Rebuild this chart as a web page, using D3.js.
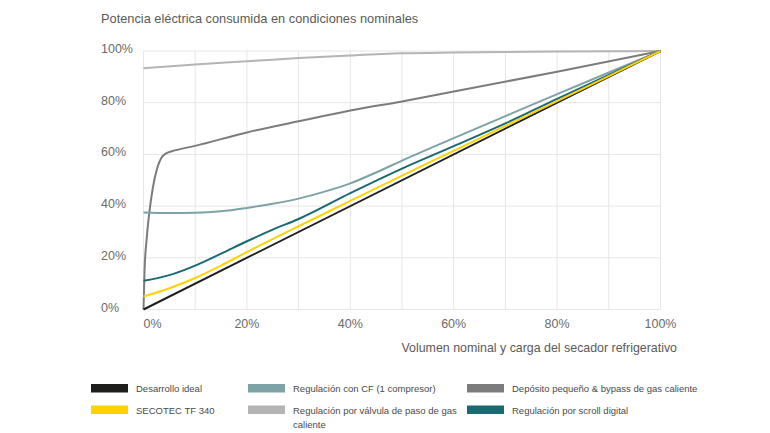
<!DOCTYPE html>
<html>
<head>
<meta charset="utf-8">
<script src="https://cdn.jsdelivr.net/npm/d3@7/dist/d3.min.js"></script>
<style>
  html, body { margin: 0; padding: 0; background: #fff; }
  svg { display: block; font-family: "Liberation Sans", Arial, Helvetica, sans-serif; }
</style>
</head>
<body>
<svg id="chart" width="770" height="433"></svg>
<script>
// ---- Data ----
const chartTitle = "Potencia eléctrica consumida en condiciones nominales";
const xAxisTitle = "Volumen nominal y carga del secador refrigerativo";
const xTicks = [0, 20, 40, 60, 80, 100];
const yTicks = [0, 20, 40, 60, 80, 100];
const xGrid = [0, 10, 20, 30, 40, 50, 60, 70, 80, 90, 100];

const seriesNames = [
  "Desarrollo ideal",
  "SECOTEC TF 340",
  "Regulación con CF (1 compresor)",
  "Regulación por válvula de paso de gas caliente",
  "Depósito pequeño & bypass de gas caliente",
  "Regulación por scroll digital"
];
const seriesColors = ["#1e1e1c", "#ffd200", "#7da3a6", "#b4b4b4", "#7c7c7c", "#1b6a72"];

const idealX = [0, 100];
const idealY = [0, 100];

const secotecX = [0, 5, 10, 15, 20, 30, 40, 50, 60, 70, 80, 90, 100];
const secotecY = [5, 8.2, 12.2, 17, 22.2, 32.2, 42, 51.8, 61.4, 71, 80.6, 90.3, 100];

const cfX = [0, 5, 10, 15, 20, 25, 30, 35, 40, 45, 50, 60, 70, 80, 90, 100];
const cfY = [37.5, 37.3, 37.4, 38, 39.3, 40.9, 42.9, 45.6, 48.8, 53, 57.6, 66.3, 74.8, 83.3, 91.7, 100];

const hotGasX = [0, 10, 20, 30, 40, 50, 60, 70, 80, 100];
const hotGasY = [93.3, 94.8, 96, 97.3, 98.3, 99.1, 99.4, 99.6, 99.8, 100];

const tankX = [0, 0.2, 0.6, 1.1, 1.8, 2.7, 3.5, 4.3, 5.5, 10, 20, 30, 40, 50, 60, 80, 100];
const tankY = [0, 15, 27, 37, 47, 55, 58.8, 60.3, 61.2, 63.3, 68.5, 72.8, 77, 80.5, 84.3, 92, 100];

const scrollX = [0, 5, 10, 15, 20, 25, 30, 40, 50, 60, 70, 80, 90, 100];
const scrollY = [11.1, 13.3, 17, 21.6, 26.4, 30.9, 35, 45, 54.5, 63.2, 72, 81.5, 90.8, 100];

// ---- Layout ----
const svg = d3.select("#chart");
const x = d3.scaleLinear().domain([0, 100]).range([143.5, 660.5]);
const y = d3.scaleLinear().domain([0, 100]).range([309.5, 51]);

const gridColor = "#e6e6e6";
const textColor = "#6b6b6b";

// Gridlines
svg.append("g").selectAll("line.h").data(yTicks).join("line")
  .attr("x1", x(0)).attr("x2", x(100))
  .attr("y1", d => y(d)).attr("y2", d => y(d))
  .attr("stroke", gridColor).attr("stroke-width", 1);
svg.append("g").selectAll("line.v").data(xGrid).join("line")
  .attr("x1", d => x(d)).attr("x2", d => x(d))
  .attr("y1", y(0)).attr("y2", y(100))
  .attr("stroke", gridColor).attr("stroke-width", 1);

// Title
svg.append("text").attr("x", 101).attr("y", 23)
  .attr("font-size", 12.8).attr("fill", "#5a5a5a").text(chartTitle);

// Y tick labels (left-aligned)
svg.append("g").selectAll("text").data(yTicks).join("text")
  .attr("x", 101).attr("y", d => y(d) + 2)
  .attr("font-size", 12.5).attr("fill", textColor)
  .text(d => d + "%");

// X tick labels
svg.append("g").selectAll("text").data(xTicks).join("text")
  .attr("x", d => x(d))
  .attr("y", 327.5)
  .attr("text-anchor", d => d === 0 ? "start" : "middle")
  .attr("font-size", 12.5).attr("fill", textColor)
  .text(d => d + "%");

// X axis title
svg.append("text").attr("x", 677).attr("y", 352)
  .attr("text-anchor", "end")
  .attr("font-size", 12.4).attr("fill", "#5a5a5a").text(xAxisTitle);

// Lines
const line = d3.line().x(d => x(d[0])).y(d => y(d[1])).curve(d3.curveMonotoneX);
const zip = (xs, ys) => xs.map((v, i) => [v, ys[i]]);
const drawOrder = [
  { data: zip(hotGasX, hotGasY), color: seriesColors[3] },
  { data: zip(tankX, tankY), color: seriesColors[4] },
  { data: zip(cfX, cfY), color: seriesColors[2] },
  { data: zip(scrollX, scrollY), color: seriesColors[5] },
  { data: zip(idealX, idealY), color: seriesColors[0] },
  { data: zip(secotecX, secotecY), color: seriesColors[1] }
];
svg.append("g").selectAll("path").data(drawOrder).join("path")
  .attr("d", d => line(d.data))
  .attr("fill", "none")
  .attr("stroke", d => d.color)
  .attr("stroke-width", 2);

// Legend
const legendItems = [
  { i: 0, col: 0, row: 0 },
  { i: 1, col: 0, row: 1 },
  { i: 2, col: 1, row: 0 },
  { i: 3, col: 1, row: 1 },
  { i: 4, col: 2, row: 0 },
  { i: 5, col: 2, row: 1 }
];
const colX = [91, 248, 467];
const rowY = [384, 405.5];
const lg = svg.append("g").selectAll("g").data(legendItems).join("g")
  .attr("transform", d => `translate(${colX[d.col]},${rowY[d.row]})`);
lg.append("rect").attr("width", 37).attr("height", 8.5)
  .attr("fill", d => seriesColors[d.i]);
lg.append("text").attr("x", 45).attr("y", 8)
  .attr("font-size", 9.5).attr("fill", "#4a4a4a")
  .each(function(d) {
    const t = d3.select(this);
    const name = seriesNames[d.i];
    if (d.i === 3) {
      t.append("tspan").attr("x", 45).attr("dy", 0).text("Regulación por válvula de paso de gas");
      t.append("tspan").attr("x", 45).attr("dy", 14).text("caliente");
    } else {
      t.text(name);
    }
  });
</script>
</body>
</html>
